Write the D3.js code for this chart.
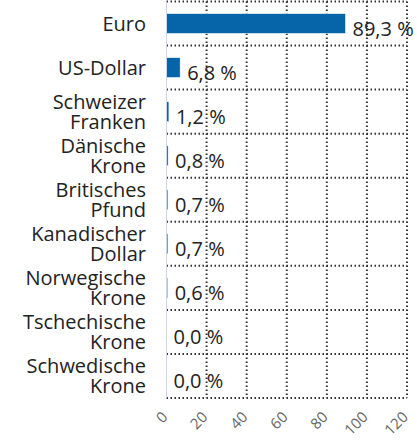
<!DOCTYPE html>
<html>
<head>
<meta charset="utf-8">
<script src="https://cdn.jsdelivr.net/npm/d3@7"></script>
<style>
  body { margin: 0; background: #fff; }
  svg { display: block; font-family: "Open Sans", sans-serif; }
</style>
</head>
<body>
<div id="chart"></div>
<script>
const categories = [
    ["Euro"], ["US-Dollar"], ["Schweizer", "Franken"], ["Dänische", "Krone"],
    ["Britisches", "Pfund"], ["Kanadischer", "Dollar"], ["Norwegische", "Krone"],
    ["Tschechische", "Krone"], ["Schwedische", "Krone"]
];
const values = [89.3, 6.8, 1.2, 0.8, 0.7, 0.7, 0.6, 0.0, 0.0];
const ticks = [0, 20, 40, 60, 80, 100, 120];

const width = 417, height = 441;
const margin = { top: 1.5, right: 10, bottom: 43, left: 166.5 };

const svg = d3.select("#chart").append("svg")
    .attr("width", width)
    .attr("height", height);

const keys = categories.map(c => c.join(" "));

const x = d3.scaleLinear().domain([0, 120]).range([margin.left, width - margin.right]);
const y = d3.scaleBand().domain(keys)
    .range([margin.top, height - margin.bottom])
    .paddingInner(0.55).paddingOuter(0.275);

const step = y.step();
const gridY = keys.map(k => y(k) - step * 0.275).concat([height - margin.bottom]);

// grid, dotted
const grid = svg.append("g")
    .attr("fill", "none")
    .attr("stroke", "#333")
    .attr("stroke-width", 2)
    .attr("stroke-dasharray", "1.5 2.5");

grid.selectAll("line.h")
    .data(gridY)
    .join("line")
    .attr("class", "h")
    .attr("x1", x(0)).attr("x2", x(120))
    .attr("y1", d => d).attr("y2", d => d);

grid.selectAll("line.v")
    .data(ticks.slice(1))
    .join("line")
    .attr("class", "v")
    .attr("x1", d => x(d)).attr("x2", d => x(d))
    .attr("y1", margin.top).attr("y2", height - margin.bottom);

// bars
svg.append("g").selectAll("rect")
    .data(values)
    .join("rect")
    .attr("x", x(0))
    .attr("y", (d, i) => y(keys[i]))
    .attr("width", d => x(d) - x(0))
    .attr("height", y.bandwidth())
    .attr("fill", "#0565a8")
    .attr("stroke", "#fff")
    .attr("stroke-width", 0.5);

// y axis line
svg.append("line")
    .attr("x1", x(0)).attr("x2", x(0))
    .attr("y1", margin.top).attr("y2", height - margin.bottom)
    .attr("stroke", "#ccd6eb");

// value labels
const fmt = v => d3.format(".1f")(v).replace(".", ",") + " %";
svg.append("g").selectAll("text")
    .data(values)
    .join("text")
    .attr("x", d => x(d) + 7)
    .attr("y", (d, i) => y(keys[i]) + y.bandwidth() / 2 + 12)
    .attr("fill", "#222")
    .style("font-size", "20px")
    .text(d => fmt(d));

// category labels
const cat = svg.append("g").selectAll("text")
    .data(categories)
    .join("text")
    .attr("text-anchor", "end")
    .attr("fill", "#222")
    .style("font-size", "20px");

cat.each(function (lines, i) {
    const cy = y(keys[i]) + y.bandwidth() / 2;
    const t = d3.select(this);
    lines.forEach((ln, j) => {
        t.append("tspan")
            .attr("x", 146)
            .attr("y", cy + 7 + (j - (lines.length - 1) / 2) * 20)
            .text(ln);
    });
});

// x tick labels
svg.append("g").selectAll("text")
    .data(ticks)
    .join("text")
    .attr("transform", d => `translate(${x(d) + 2},${height - margin.bottom + 20}) rotate(-45)`)
    .attr("text-anchor", "end")
    .attr("fill", "#666")
    .style("font-size", "15px")
    .text(d => d);
</script>
</body>
</html>
